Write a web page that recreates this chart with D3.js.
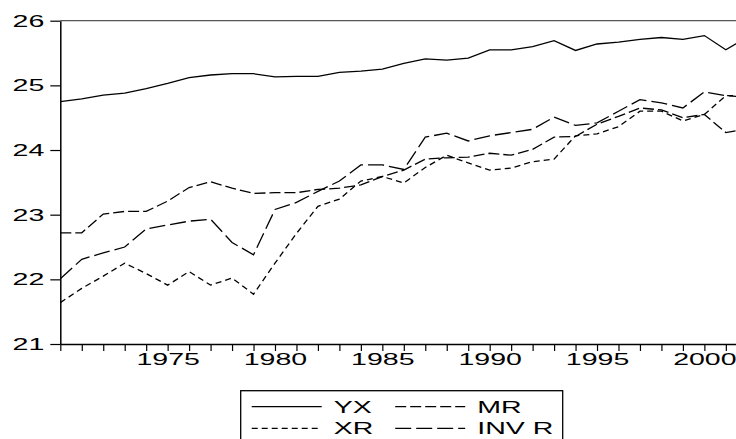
<!DOCTYPE html>
<html>
<head>
<meta charset="utf-8">
<script src="https://cdn.jsdelivr.net/npm/d3@7"></script>
<style>
body { margin: 0; background: #fff; }
svg { display: block; font-family: "Liberation Sans", Arial, sans-serif; }
</style>
</head>
<body>
<svg id="chart" width="736" height="439"></svg>
<script>
const years = d3.range(1970, 2003);

const yx = [24.75, 24.79, 24.85, 24.88, 24.95, 25.03, 25.12, 25.16, 25.18, 25.18,
            25.13, 25.14, 25.14, 25.20, 25.22, 25.25, 25.34, 25.41, 25.39, 25.42,
            25.55, 25.55, 25.60, 25.69, 25.54, 25.64, 25.67, 25.71, 25.74, 25.71,
            25.77, 25.55, 25.75];
const mr = [22.72, 22.72, 23.01, 23.05, 23.05, 23.21, 23.42, 23.51, 23.41, 23.33,
            23.34, 23.34, 23.39, 23.41, 23.46, 23.59, 23.69, 23.86, 23.88, 23.89,
            23.95, 23.92, 24.01, 24.20, 24.21, 24.40, 24.52, 24.65, 24.62, 24.50,
            24.55, 24.27, 24.33];
const xr = [21.64, 21.86, 22.05, 22.25, 22.09, 21.91, 22.12, 21.91, 22.02, 21.77,
            22.25, 22.71, 23.13, 23.24, 23.52, 23.59, 23.49, 23.73, 23.92, 23.80,
            23.69, 23.72, 23.82, 23.86, 24.22, 24.25, 24.36, 24.60, 24.60, 24.45,
            24.55, 24.84, 24.84];
const invr = [22.01, 22.31, 22.41, 22.50, 22.78, 22.84, 22.90, 22.93, 22.57, 22.38,
              23.08, 23.19, 23.36, 23.52, 23.77, 23.77, 23.70, 24.20, 24.26, 24.14,
              24.22, 24.27, 24.32, 24.51, 24.38, 24.42, 24.60, 24.78, 24.73, 24.65,
              24.90, 24.84, 24.82];

const yTicks = [21, 22, 23, 24, 25, 26];
const xLabelYears = [1975, 1980, 1985, 1990, 1995, 2000];

const series = [
    {name: "YX", values: yx, dash: null},
    {name: "MR", values: mr, dash: "11,4"},
    {name: "XR", values: xr, dash: "6,4"},
    {name: "INV R", values: invr, dash: "16,5"}
];

const svg = d3.select("#chart");
const stretch = 1.7;   // the text in the original is drawn wide
const fontSize = 16.8;

const x = d3.scaleLinear().domain([1970, 2002]).range([60.3, 747.3]);
const y = d3.scaleLinear().domain([21, 26]).range([344, 20.7]);

// top frame line
svg.append("line")
    .attr("x1", x(1970)).attr("x2", 736)
    .attr("y1", y(26)).attr("y2", y(26))
    .attr("stroke", "#555")
    .attr("stroke-width", 1.3);

const line = d3.line()
    .x((d, i) => x(years[i]))
    .y(d => y(d));

svg.selectAll("path.series")
    .data(series)
    .enter().append("path")
        .attr("class", "series")
        .attr("d", d => line(d.values))
        .attr("fill", "none")
        .attr("stroke", "#000")
        .attr("stroke-width", 1.3)
        .attr("stroke-dasharray", d => d.dash);

// y axis
const yAxis = svg.append("g")
    .attr("transform", `translate(${x(1970)},0)`)
    .call(d3.axisLeft(y).tickValues(yTicks).tickSize(10).tickSizeOuter(0).tickFormat(d3.format("d")));

yAxis.select(".domain").attr("stroke", "#000").attr("stroke-width", 1.5);
yAxis.selectAll(".tick line").attr("stroke", "#000").attr("stroke-width", 1.2);
yAxis.selectAll(".tick text")
    .attr("x", -16 / stretch)
    .attr("transform", `scale(${stretch},1)`)
    .attr("font-size", fontSize)
    .attr("font-family", "Liberation Sans, Arial, sans-serif")
    .attr("fill", "#000");

// x axis
const xAxis = svg.append("g")
    .attr("transform", `translate(0,${y(21)})`)
    .call(d3.axisBottom(x).tickValues(years).tickSize(7).tickSizeOuter(0)
        .tickFormat(d => xLabelYears.includes(d) ? d : ""));

xAxis.select(".domain").attr("stroke", "#000").attr("stroke-width", 1.5);
xAxis.selectAll(".tick line").attr("stroke", "#000").attr("stroke-width", 1.2);
xAxis.selectAll(".tick text")
    .attr("y", 9)
    .attr("transform", `scale(${stretch},1)`)
    .attr("font-size", fontSize)
    .attr("font-family", "Liberation Sans, Arial, sans-serif")
    .attr("fill", "#000");

// legend
const legendItems = [
    {name: "YX", col: 0, row: 0},
    {name: "MR", col: 1, row: 0},
    {name: "XR", col: 0, row: 1},
    {name: "INV R", col: 1, row: 1}
];

const legend = svg.append("g").attr("transform", "translate(240.7,390.7)");

legend.append("rect")
    .attr("x", 0).attr("y", 0)
    .attr("width", 322).attr("height", 70)
    .attr("fill", "#fff")
    .attr("stroke", "#000")
    .attr("stroke-width", 1.3);

const item = legend.selectAll("g.item")
    .data(legendItems)
    .enter().append("g")
        .attr("class", "item")
        .attr("transform", d => `translate(${11 + d.col * 143.5},${16 + d.row * 21.6})`);

item.append("line")
    .attr("x1", 0).attr("x2", 70)
    .attr("y1", 0).attr("y2", 0)
    .attr("stroke", "#000")
    .attr("stroke-width", 1.3)
    .attr("stroke-dasharray", d => series.find(s => s.name === d.name).dash);

item.append("g")
    .attr("transform", `translate(82,5.8) scale(${stretch},1)`)
    .append("text")
        .attr("font-size", fontSize)
        .attr("fill", "#000")
        .text(d => d.name);
</script>
</body>
</html>
